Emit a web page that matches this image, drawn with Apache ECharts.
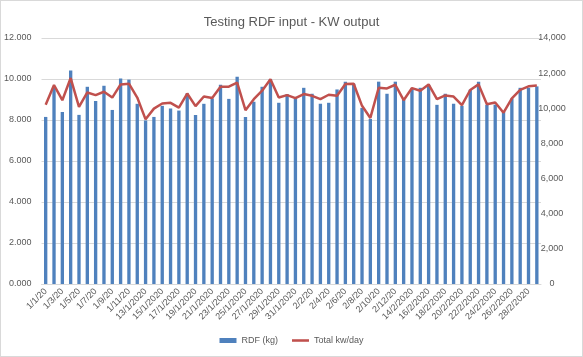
<!DOCTYPE html>
<html><head><meta charset="utf-8">
<script src="https://cdn.jsdelivr.net/npm/echarts@6/dist/echarts.min.js"></script>
<style>
html,body{margin:0;padding:0;background:#fff;}
#c{width:583px;height:357px;box-sizing:border-box;border:1px solid #d9d9d9;}
</style></head>
<body><div id="c"></div>
<script>
var categories = (function(){
  var a=[];
  for(var d=1; d<=12; d++) a.push('1/'+d+'/20');
  for(var d=13; d<=31; d++) a.push(d+'/1/2020');
  for(var d=1; d<=12; d++) a.push('2/'+d+'/20');
  for(var d=13; d<=29; d++) a.push(d+'/2/2020');
  return a;
})();
var rdfKg = [8150,9590,8390,10410,8250,9620,8930,9670,8490,10020,9970,8790,7970,8150,8690,
  8560,8460,9300,8250,8790,9050,9720,9030,10110,8150,8890,9620,10000,8840,9260,
  9100,9570,9280,8790,8840,9490,9870,9770,8590,8050,9870,9280,9870,8970,9540,
  9570,9710,8740,9280,8790,8690,9480,9870,8740,8750,8390,9050,9570,9570,9640];
var totalKw = [10200,11320,10460,11720,10080,10900,10750,10940,10610,11360,11400,10610,9370,9980,10270,
  10310,10040,10840,10120,10670,10580,11230,11230,11460,9890,10520,11000,11650,10610,10750,
  10580,10810,10710,10520,10770,10710,11380,11400,10140,9450,11170,11130,11340,10460,11150,
  11000,11360,10520,10730,10670,10180,11040,11360,10230,10330,9750,10560,11050,11250,11300];

var chart = echarts.init(document.getElementById('c'));
var txt = '#595959';
chart.setOption({
  animation:false,
  title:{text:'Testing RDF input - KW output',left:'center',top:10,
    textStyle:{fontFamily:'Liberation Sans, Arial',fontSize:13,fontWeight:'normal',color:txt}},
  grid:{left:39,right:41,top:37,bottom:72,containLabel:false},
  legend:{bottom:6,left:'center',itemGap:14,itemWidth:17,itemHeight:5,
    textStyle:{fontFamily:'Liberation Sans, Arial',fontSize:9,color:txt},
    data:[{name:'RDF (kg)',icon:'rect'},{name:'Total kw/day',icon:'path://M0,0H20V3H0Z'}]},
  xAxis:{type:'category',data:categories,
    axisLine:{lineStyle:{color:'#d9d9d9'}},axisTick:{show:false},
    axisLabel:{interval:1,rotate:45,fontFamily:'Liberation Sans, Arial',fontSize:9,color:txt,margin:6}},
  yAxis:[
    {type:'value',min:0,max:12000,interval:2000,
     axisLine:{show:false},axisTick:{show:false},
     splitLine:{lineStyle:{color:'#d9d9d9'}},
     axisLabel:{fontFamily:'Liberation Sans, Arial',fontSize:9,color:txt,margin:10,
       formatter:function(v){return (v/1000).toFixed(3);}}},
    {type:'value',min:0,max:14000,interval:2000,alignTicks:false,
     axisLine:{show:false},axisTick:{show:false},splitLine:{show:false},
     axisLabel:{fontFamily:'Liberation Sans, Arial',fontSize:9,color:txt,margin:11,align:'center',
       formatter:function(v){return v===0?'0':(v/1000)+',000';}}}
  ],
  series:[
    {name:'RDF (kg)',type:'bar',data:rdfKg,yAxisIndex:0,barWidth:'40%',
     itemStyle:{color:'#4f81bd'}},
    {name:'Total kw/day',type:'line',data:totalKw,yAxisIndex:1,symbol:'none',
     lineStyle:{color:'#c0504d',width:2.5},itemStyle:{color:'#c0504d'}}
  ]
});
</script></body></html>
